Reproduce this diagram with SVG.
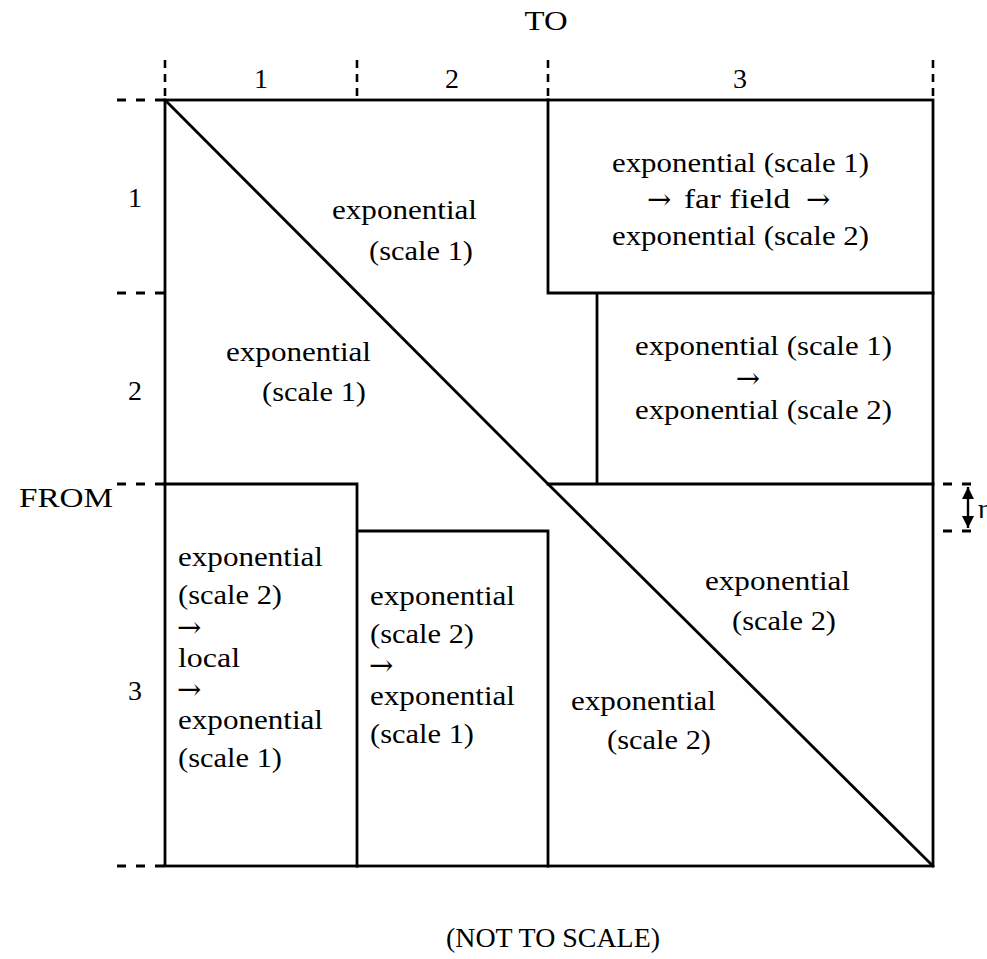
<svg xmlns="http://www.w3.org/2000/svg" width="987" height="959" viewBox="0 0 987 959">
<style>
text{font-family:"Liberation Serif","DejaVu Serif",serif;font-size:28px;fill:#000}
text.ar{font-family:"DejaVu Serif",serif;font-size:29px}
.ln{stroke:#000;stroke-width:2.8;fill:none;stroke-linecap:square}
.dh{stroke:#000;stroke-width:2.8;fill:none;stroke-dasharray:9 10}
.dv{stroke:#000;stroke-width:2.6;fill:none;stroke-dasharray:8 6}
</style>
<defs>
<marker id="ah" viewBox="0 0 10 10" refX="10" refY="5" markerWidth="5" markerHeight="5" orient="auto-start-reverse"><path d="M0,0 L10,5 L0,10 z" fill="#000"/></marker>
</defs>
<rect width="987" height="959" fill="#fff"/>
<g id="axes">
<text x="546" y="30" text-anchor="middle" textLength="43" lengthAdjust="spacingAndGlyphs">TO</text>
<text x="261" y="88" text-anchor="middle">1</text>
<text x="452" y="88" text-anchor="middle">2</text>
<text x="740" y="88" text-anchor="middle">3</text>
<text x="135" y="207" text-anchor="middle">1</text>
<text x="135" y="400" text-anchor="middle">2</text>
<text x="135" y="700" text-anchor="middle">3</text>
<text x="19" y="507" textLength="94" lengthAdjust="spacingAndGlyphs">FROM</text>
<text x="446" y="947" textLength="214" lengthAdjust="spacingAndGlyphs">(NOT TO SCALE)</text>
<path class="dv" d="M165,60V100M357,60V100M548,60V100M933,60V100"/>
<path class="dh" d="M117,100H165M117,293H165M117,484H165M117,866H165"/>
<path class="dh" d="M933,484H981M933,531H981" stroke-dashoffset="-10"/>
<line x1="968" y1="487" x2="968" y2="528" stroke="#000" stroke-width="2.4" marker-start="url(#ah)" marker-end="url(#ah)"/>
<text x="978" y="518">η</text>
</g>
<g id="connectors">
<rect class="ln" x="165" y="100" width="768" height="766"/>
<path class="ln" d="M165,100L548,484L933,866"/>
<path class="ln" d="M548,100V293H933M597,293V484M548,484H933"/>
<path class="ln" d="M165,484H357V866M357,531H548V866"/>
</g>
<g id="node-top-middle">
<text x="332" y="219" textLength="145" lengthAdjust="spacingAndGlyphs">exponential</text>
<text x="369" y="260" textLength="104" lengthAdjust="spacingAndGlyphs">(scale 1)</text>
</g>
<g id="node-top-left">
<text x="226" y="361" textLength="145" lengthAdjust="spacingAndGlyphs">exponential</text>
<text x="262" y="401" textLength="104" lengthAdjust="spacingAndGlyphs">(scale 1)</text>
</g>
<g id="node-top-right">
<text x="612" y="172" textLength="257" lengthAdjust="spacingAndGlyphs">exponential (scale 1)</text>
<text class="ar" x="647" y="209">→</text>
<text x="684" y="208" textLength="106" lengthAdjust="spacingAndGlyphs">far field</text>
<text class="ar" x="806" y="209">→</text>
<text x="612" y="245" textLength="257" lengthAdjust="spacingAndGlyphs">exponential (scale 2)</text>
</g>
<g id="node-mid-right">
<text x="635" y="355" textLength="257" lengthAdjust="spacingAndGlyphs">exponential (scale 1)</text>
<text class="ar" x="748" y="388" text-anchor="middle">→</text>
<text x="635" y="419" textLength="257" lengthAdjust="spacingAndGlyphs">exponential (scale 2)</text>
</g>
<g id="node-bottom-left">
<text x="178" y="566" textLength="145" lengthAdjust="spacingAndGlyphs">exponential</text>
<text x="178" y="604" textLength="104" lengthAdjust="spacingAndGlyphs">(scale 2)</text>
<text class="ar" x="177" y="637">→</text>
<text x="178" y="667" textLength="62" lengthAdjust="spacingAndGlyphs">local</text>
<text class="ar" x="177" y="699">→</text>
<text x="178" y="729" textLength="145" lengthAdjust="spacingAndGlyphs">exponential</text>
<text x="178" y="767" textLength="104" lengthAdjust="spacingAndGlyphs">(scale 1)</text>
</g>
<g id="node-bottom-middle">
<text x="370" y="605" textLength="145" lengthAdjust="spacingAndGlyphs">exponential</text>
<text x="370" y="643" textLength="104" lengthAdjust="spacingAndGlyphs">(scale 2)</text>
<text class="ar" x="369" y="675">→</text>
<text x="370" y="705" textLength="145" lengthAdjust="spacingAndGlyphs">exponential</text>
<text x="370" y="743" textLength="104" lengthAdjust="spacingAndGlyphs">(scale 1)</text>
</g>
<g id="node-bottom-right-upper">
<text x="705" y="590" textLength="145" lengthAdjust="spacingAndGlyphs">exponential</text>
<text x="732" y="630" textLength="104" lengthAdjust="spacingAndGlyphs">(scale 2)</text>
</g>
<g id="node-bottom-right-lower">
<text x="571" y="710" textLength="145" lengthAdjust="spacingAndGlyphs">exponential</text>
<text x="607" y="749" textLength="104" lengthAdjust="spacingAndGlyphs">(scale 2)</text>
</g>
</svg>
